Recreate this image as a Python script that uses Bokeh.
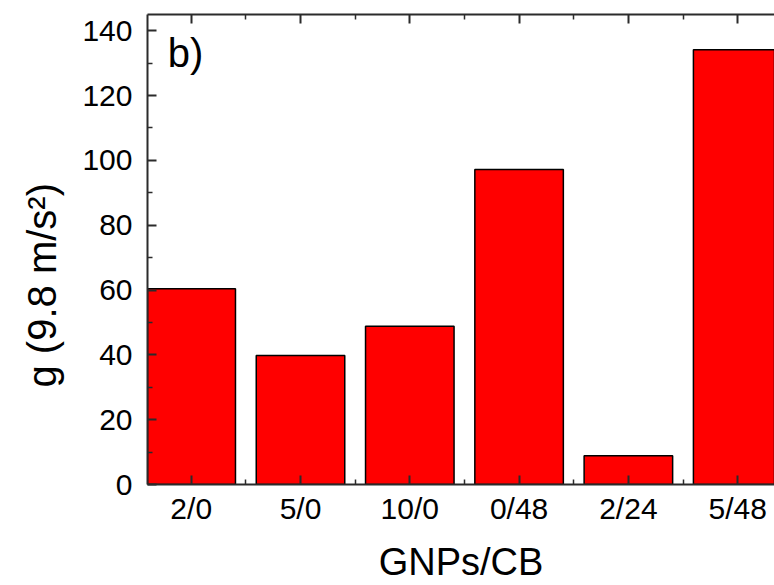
from bokeh.plotting import figure
from bokeh.models import FixedTicker, LinearAxis, Range1d, Label, Title
from bokeh.embed import file_html
from bokeh.resources import INLINE

# Acceleration per filler ratio (GNPs/CB)
categories = ["2/0", "5/0", "10/0", "0/48", "2/24", "5/48"]
g_values = [60.4, 39.8, 48.8, 97.2, 8.9, 134.1]
y_ticks = [0, 20, 40, 60, 80, 100, 120, 140]
y_minor = [10, 30, 50, 70, 90, 110, 130]

positions = list(range(1, len(categories) + 1))
x_minor = [i + 0.5 for i in range(0, len(categories) + 1)]

FONT = "Liberation Sans"
AXIS_COLOR = "#2b2b2b"

p = figure(
    width=774, height=585,
    x_range=Range1d(0.600, 6.337), y_range=Range1d(0, 145),
    output_backend="svg", toolbar_location=None,
    min_border_left=147, min_border_right=0,
    min_border_top=14, min_border_bottom=101,
)
p.outline_line_color = None
p.grid.visible = False
p.background_fill_color = "white"
p.border_fill_color = "white"

p.vbar(x=positions, top=g_values, width=0.81, bottom=0,
       fill_color="#ff0000", line_color="black", line_width=1.5)

# bottom axis
xa = p.xaxis[0]
xa.ticker = FixedTicker(ticks=positions, minor_ticks=x_minor)
xa.major_label_overrides = {pos: lab for pos, lab in zip(positions, categories)}
xa.axis_label = "GNPs/CB"

# left axis (its title is a separate side title, set lower than centre)
ya = p.yaxis[0]
ya.ticker = FixedTicker(ticks=y_ticks, minor_ticks=y_minor)

for ax in (xa, ya):
    ax.axis_line_color = AXIS_COLOR
    ax.axis_line_width = 2
    ax.major_tick_line_color = AXIS_COLOR
    ax.minor_tick_line_color = AXIS_COLOR
    ax.major_tick_line_width = 2
    ax.minor_tick_line_width = 1.5
    ax.major_tick_in = 9
    ax.major_tick_out = 0
    ax.minor_tick_in = 5
    ax.minor_tick_out = 0
    ax.major_label_text_font = FONT
    ax.major_label_text_font_size = "30px"
    ax.major_label_text_color = "black"
    ax.axis_label_text_font = FONT
    ax.axis_label_text_font_style = "normal"
    ax.axis_label_text_color = "black"

xa.major_label_standoff = 7
xa.major_label_text_line_height = 1.0
xa.axis_label_text_font_size = "38px"
xa.axis_label_text_line_height = 1.0
xa.axis_label_standoff = 13
ya.major_label_standoff = 15

# mirrored top axis, ticks only
top = LinearAxis(ticker=FixedTicker(ticks=positions, minor_ticks=x_minor))
top.major_label_overrides = {pos: "" for pos in positions}
top.major_label_text_font_size = "0px"
top.axis_line_color = AXIS_COLOR
top.axis_line_width = 2
top.major_tick_line_color = AXIS_COLOR
top.minor_tick_line_color = AXIS_COLOR
top.major_tick_line_width = 2
top.minor_tick_line_width = 1.5
top.major_tick_in = 9
top.major_tick_out = 0
top.minor_tick_in = 5
top.minor_tick_out = 0
top.major_label_standoff = 0
p.add_layout(top, "above")

# y-axis title
p.add_layout(Title(text="g (9.8 m/s²)", align="left", offset=97,
                   standoff=32, text_font=FONT, text_font_size="40px",
                   text_font_style="normal", text_color="black"), "left")

# panel tag
p.add_layout(Label(x=0.785, y=140, text="b)", text_font=FONT,
                   text_font_size="40px", text_color="black",
                   text_baseline="top"))

open("out.html", "w").write(file_html(p, INLINE))
